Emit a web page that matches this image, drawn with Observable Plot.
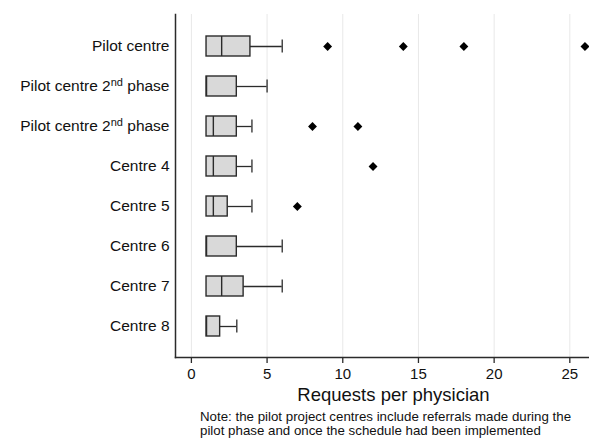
<!DOCTYPE html>
<html>
<head>
<meta charset="utf-8">
<script src="https://cdn.jsdelivr.net/npm/d3@7"></script>
<script src="https://cdn.jsdelivr.net/npm/@observablehq/plot@0.6"></script>
<style>
  html, body { margin: 0; padding: 0; background: #fff; }
  #wrap { position: relative; width: 589px; height: 438px; font-family: "Liberation Sans", Arial, Helvetica, sans-serif; color: #111; }
  #note { position: absolute; left: 200px; top: 410px; font-size: 13.3px; line-height: 14px; white-space: nowrap; }
</style>
</head>
<body>
<div id="wrap">
  <div id="chart"></div>
  <div id="note">Note: the pilot project centres include referrals made during the<br>pilot phase and once the schedule had been implemented</div>
</div>
<script>
// ---- data ----
const categories = ["Pilot centre", "Pilot centre 2nd phase", "Pilot centre 2nd phase", "Centre 4", "Centre 5", "Centre 6", "Centre 7", "Centre 8"];
const lowerQuartile = [1, 1, 1, 1, 1, 1, 1, 1];
const medianValue = [2, 1, 1.45, 1.45, 1.45, 1, 2, 1];
const upperQuartile = [3.9, 3, 3, 3, 2.4, 3, 3.45, 1.9];
const upperWhisker = [6, 5, 4, 4, 4, 6, 6, 3];
const outlierRow = [0, 0, 0, 0, 2, 2, 3, 4];
const outlierValue = [9, 14, 18, 26, 8, 11, 12, 7];
const xTicks = [0, 5, 10, 15, 20, 25];
const xLabel = "Requests per physician";

// ---- tables built from the arrays ----
const boxes = categories.map((c, i) => ({
  row: i, q1: lowerQuartile[i], med: medianValue[i], q3: upperQuartile[i], hi: upperWhisker[i]
}));
const outliers = outlierRow.map((r, i) => ({ row: r, value: outlierValue[i] }));

const ink = "#2b2b2b";
const chart = Plot.plot({
  width: 589,
  height: 408,
  marginLeft: 175,
  marginRight: 0,
  marginTop: 14,
  marginBottom: 51,
  style: { fontFamily: "'Liberation Sans', Arial, Helvetica, sans-serif", fontSize: "15px", color: "#111", background: "#fff", overflow: "visible" },
  x: { domain: [-1.05, 26.3] },
  y: { type: "band", domain: d3.range(categories.length), paddingInner: 0.5, paddingOuter: 0.5 },
  marks: [
    Plot.gridX(xTicks, { stroke: "#e8e8e8", strokeOpacity: 1, strokeWidth: 1 }),
    Plot.axisX({ ticks: xTicks, tickSize: 6, tickPadding: 5, label: null, fontSize: 15, stroke: ink, strokeWidth: 1.3 }),
    Plot.axisY({ tickSize: 0, tickPadding: 6, label: null, fontSize: 15.5, tickFormat: (i) => categories[i] }),
    Plot.frame({ anchor: "left", stroke: ink, strokeWidth: 1.5 }),
    Plot.frame({ anchor: "bottom", stroke: ink, strokeWidth: 1.5 }),
    Plot.ruleY(boxes, { y: "row", x1: "q3", x2: "hi", stroke: ink, strokeWidth: 1.3 }),
    Plot.tickX(boxes, { y: "row", x: "hi", stroke: ink, strokeWidth: 1.3, insetTop: 3.5, insetBottom: 3.5 }),
    Plot.barX(boxes, { y: "row", x1: "q1", x2: "q3", fill: "#d9d9d9", stroke: ink, strokeWidth: 1.4 }),
    Plot.tickX(boxes, { y: "row", x: "med", stroke: ink, strokeWidth: 1.4 }),
    Plot.dot(outliers, { y: "row", x: "value", symbol: "diamond2", r: 4, fill: "#000", stroke: "none" }),
    Plot.text([xLabel], { text: (d) => d, frameAnchor: "bottom", dx: 11, dy: 43, fontSize: 18.5, fill: "#111" })
  ]
});
document.getElementById("chart").appendChild(chart);

// superscript "nd" in the y tick labels
d3.select(chart).selectAll('g[aria-label="y-axis tick label"] text').each(function () {
  const t = this.textContent;
  const m = t.match(/^(.*\d)(nd)( .*)$/);
  if (!m) return;
  const sel = d3.select(this);
  sel.text(null);
  sel.append("tspan").text(m[1]);
  sel.append("tspan").attr("font-size", "11px").attr("dy", "-0.5em").text(m[2]);
  sel.append("tspan").attr("dy", "0.355em").text(m[3]);
});
</script>
</body>
</html>
